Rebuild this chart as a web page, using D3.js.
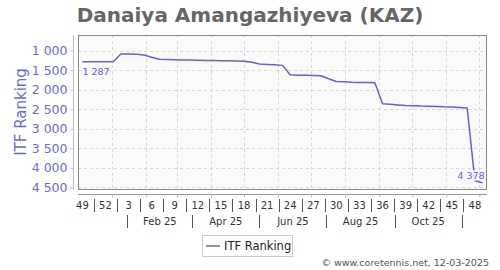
<!DOCTYPE html>
<html><head><meta charset="utf-8">
<script src="https://cdn.jsdelivr.net/npm/d3@7/dist/d3.min.js"></script>
<style>body{margin:0;background:#fff}svg{display:block;font-family:"DejaVu Sans",sans-serif}</style>
</head><body><svg id="c" width="500" height="270"></svg>
<script>
const title = "Danaiya Amangazhiyeva (KAZ)";
const weekDates = ["2024-12-05","2024-12-12","2024-12-19","2024-12-26","2025-01-02","2025-01-09","2025-01-16","2025-01-23","2025-01-30","2025-02-06","2025-02-13","2025-02-20","2025-02-27","2025-03-06","2025-03-13","2025-03-20","2025-03-27","2025-04-03","2025-04-10","2025-04-17","2025-04-24","2025-05-01","2025-05-08","2025-05-15","2025-05-22","2025-05-29","2025-06-05","2025-06-12","2025-06-19","2025-06-26","2025-07-03","2025-07-10","2025-07-17","2025-07-24","2025-07-31","2025-08-07","2025-08-14","2025-08-21","2025-08-28","2025-09-04","2025-09-11","2025-09-18","2025-09-25","2025-10-02","2025-10-09","2025-10-16","2025-10-23","2025-10-30","2025-11-06","2025-11-13","2025-11-20","2025-11-27","2025-12-04"];
const ranking = [1287,1287,1287,1287,1287,1090,1090,1095,1115,1170,1225,1230,1235,1240,1245,1250,1255,1255,1260,1265,1268,1272,1300,1345,1355,1365,1380,1620,1630,1635,1640,1645,1720,1790,1800,1810,1815,1820,1825,2360,2375,2390,2405,2410,2420,2425,2430,2440,2445,2455,2470,4330,4378];
const weekLabels = ["49","52","3","6","9","12","15","18","21","24","27","30","33","36","39","42","45","48"];
const weekLabelIdx = [0,3,6,9,12,15,18,21,24,27,30,33,36,39,42,45,48,51];
const monthLabels = ["Feb 25","Apr 25","Jun 25","Aug 25","Oct 25"];
const monthSeps = ["2025-01-15","2025-03-15","2025-05-15","2025-07-15","2025-09-15","2025-11-15"];
const monthGrid = ["2025-01-01","2025-02-01","2025-03-01","2025-04-01","2025-05-01","2025-06-01","2025-07-01","2025-08-01","2025-09-01","2025-10-01","2025-11-01","2025-12-01"];
const yTicks = [1000,1500,2000,2500,3000,3500,4000,4500];
const seriesName = "ITF Ranking";
const credit = "\u00a9 www.coretennis.net, 12-03-2025";

const parse = d3.utcParse("%Y-%m-%d");
const data = weekDates.map((d,i)=>({date:parse(d), v:ranking[i]}));
const L=78, R=487, T=35, B=190;
const x = d3.scaleUtc().domain([parse("2024-12-01"), parse("2025-12-08")]).range([L,R]);
const y = d3.scaleLinear().domain([604,4564]).range([T,B]);
const lineColor = "#6262d2", axisColor="#6a6ad2";
const fmt = v => d3.format(",")(v).replace(",", " ");

const svg = d3.select("#c");
svg.append("text").attr("x",250).attr("y",22).attr("text-anchor","middle")
  .attr("font-size",20).attr("font-weight","bold").attr("fill","#666").text(title);

svg.append("rect").attr("x",L).attr("y",T).attr("width",R-L).attr("height",B-T)
  .attr("fill","#fafafa").attr("stroke","none");
// grid
const g = svg.append("g").attr("stroke","#d8d8d8").attr("stroke-dasharray","3,3").attr("stroke-width",1);
g.selectAll(".h").data(yTicks).join("line").attr("x1",L).attr("x2",R)
  .attr("y1",d=>Math.round(y(d))+0.5).attr("y2",d=>Math.round(y(d))+0.5);
g.selectAll(".v").data(monthGrid).join("line")
  .attr("x1",d=>Math.round(x(parse(d)))+0.5).attr("x2",d=>Math.round(x(parse(d)))+0.5)
  .attr("y1",T).attr("y2",B);
svg.append("rect").attr("x",L+0.5).attr("y",T+0.5).attr("width",R-L-1).attr("height",B-T-1)
  .attr("fill","none").attr("stroke","#888");

// y axis
const ya = svg.append("g").attr("transform","translate(73.5,0)")
  .call(d3.axisLeft(y).tickValues(yTicks).tickFormat(fmt).tickSize(3).tickPadding(3));
ya.select(".domain").attr("stroke","#b8b8e8").attr("d",`M0,${T}V${B}`);
ya.selectAll(".tick line").attr("stroke","#b8b8e8");
ya.selectAll(".tick text").attr("fill",axisColor).attr("font-size",12.5).attr("font-family","DejaVu Sans");
svg.append("text").attr("transform",`translate(26,112) rotate(-90)`).attr("text-anchor","middle")
  .attr("font-size",15).attr("fill",axisColor).text(seriesName);

// x axis
const xa = svg.append("g").attr("transform",`translate(0,${B+4.5})`)
  .call(d3.axisBottom(x).tickValues(monthGrid.map(parse)).tickFormat("").tickSize(3));
xa.select(".domain").attr("stroke","#999").attr("d",`M${L},0H${R}`);
xa.selectAll(".tick line").attr("stroke","#bbb");

const wl = svg.append("g").attr("font-size",10).attr("fill","#333").attr("text-anchor","middle");
wl.selectAll("text").data(weekLabels).join("text")
  .attr("x",(d,i)=>x(data[weekLabelIdx[i]].date)).attr("y",209).text(d=>d);
const wsep = weekLabelIdx.slice(1).map((idx,i)=>(x(data[idx].date)+x(data[weekLabelIdx[i]].date))/2);
svg.append("g").selectAll("line").data(wsep).join("line")
  .attr("x1",d=>Math.round(d)+0.5).attr("x2",d=>Math.round(d)+0.5).attr("y1",199).attr("y2",212)
  .attr("stroke","#555");
const msx = monthSeps.map(d=>x(parse(d)));
svg.append("g").selectAll("line").data(msx).join("line")
  .attr("x1",d=>Math.round(d)+0.5).attr("x2",d=>Math.round(d)+0.5).attr("y1",215).attr("y2",228)
  .attr("stroke","#555");
svg.append("g").attr("font-size",10).attr("fill","#333").attr("text-anchor","middle")
  .selectAll("text").data(monthLabels).join("text")
  .attr("x",(d,i)=>(msx[i]+msx[i+1])/2).attr("y",225).text(d=>d);

// line
svg.append("path").datum(data).attr("fill","none").attr("stroke",lineColor).attr("stroke-width",1.5)
  .attr("stroke-linejoin","round")
  .attr("d",d3.line().x(d=>x(d.date)).y(d=>y(d.v)));
// point labels
const first = data[0], last = data[data.length-1];
svg.append("text").attr("x",x(first.date)).attr("y",y(first.v)+13).attr("font-size",9.5)
  .attr("fill",lineColor).text(fmt(first.v));
svg.append("text").attr("x",x(last.date)+2).attr("y",y(last.v)-4).attr("text-anchor","end").attr("font-size",9.5)
  .attr("fill",lineColor).attr("stroke","#fafafa").attr("stroke-width",3).attr("paint-order","stroke").text(fmt(last.v));

// legend
const lg = svg.append("g");
lg.append("rect").attr("x",202.5).attr("y",235.5).attr("width",90).attr("height",21).attr("fill","#fff").attr("stroke","#ccc");
lg.append("line").attr("x1",206).attr("x2",220).attr("y1",246).attr("y2",246).attr("stroke",lineColor).attr("stroke-width",1.5);
lg.append("text").attr("x",224).attr("y",250).attr("font-size",11.5).attr("fill","#222").text(seriesName);

svg.append("text").attr("x",489).attr("y",266).attr("text-anchor","end").attr("font-size",9.5)
  .attr("fill","#555").text(credit);
</script></body></html>
